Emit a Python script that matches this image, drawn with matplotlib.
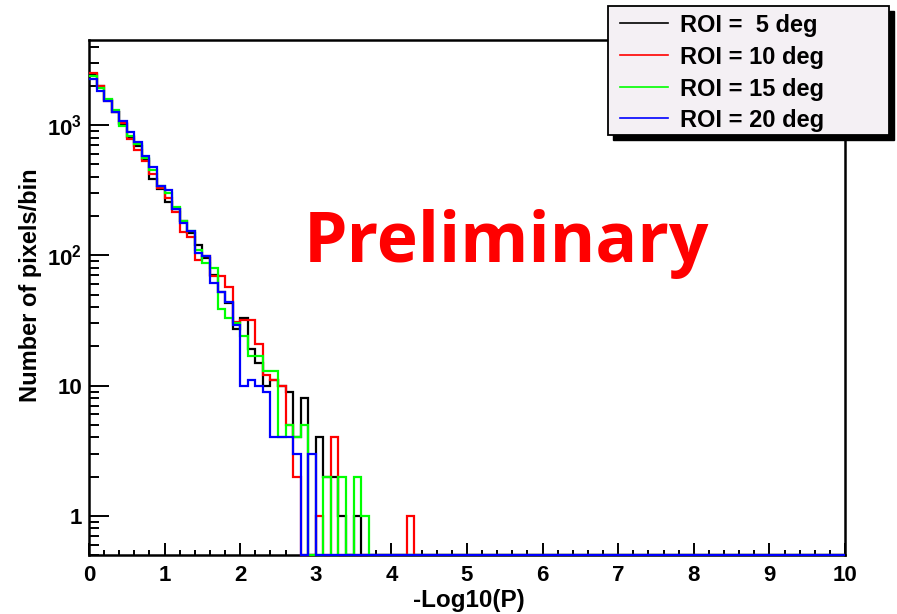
import numpy as np
import matplotlib
matplotlib.use("Agg")
import matplotlib.pyplot as plt
from matplotlib.patches import Rectangle
from matplotlib.lines import Line2D
from matplotlib.ticker import FixedLocator, MultipleLocator, NullFormatter

plt.rcParams["font.family"] = ["Liberation Sans", "DejaVu Sans"]
plt.rcParams["font.weight"] = "bold"
plt.rcParams["mathtext.fontset"] = "custom"
plt.rcParams["mathtext.bf"] = "Liberation Sans:bold"
plt.rcParams["mathtext.rm"] = "Liberation Sans:bold"
plt.rcParams["mathtext.default"] = "bf"

# ---- histogram data: 100 bins of width 0.1 in -Log10(P) ----
bin_edges = np.linspace(0.0, 10.0, 101)

roi_labels = ["ROI =  5 deg", "ROI = 10 deg", "ROI = 15 deg", "ROI = 20 deg"]
roi_colors = ["#000000", "#ff0000", "#00ff00", "#0000ff"]

# counts per bin, starting at bin [0.0, 0.1); remaining bins are empty
counts_roi5 = [2450, 1980, 1560, 1260, 1020, 810, 690, 550, 385, 325,
               255, 226, 184, 148, 120, 96, 71, 52, 43, 27,
               33, 19, 15, 10, 11, 10, 9, 4, 8, 0,
               4, 2, 2, 1, 0, 1]
counts_roi10 = [2500, 1980, 1540, 1250, 1030, 780, 640, 530, 420, 330,
                275, 216, 152, 138, 92, 98, 69, 69, 57, 31,
                32, 32, 21, 12, 11, 10, 5, 2, 0, 0,
                1, 0, 4, 0, 0, 0, 0, 0, 0, 0,
                0, 0, 1]
counts_roi15 = [2400, 1920, 1580, 1310, 985, 825, 710, 555, 450, 343,
                300, 235, 182, 154, 110, 87, 80, 39, 33, 30,
                24, 17, 17, 13, 13, 4, 5, 4, 5, 0,
                0, 2, 0, 2, 0, 2, 1]
counts_roi20 = [2250, 1830, 1530, 1265, 1075, 890, 735, 580, 475, 343,
                318, 226, 176, 154, 105, 99, 61, 52, 44, 29,
                10, 11, 10, 9, 4, 4, 4, 3, 0, 3]

series = [counts_roi5, counts_roi10, counts_roi15, counts_roi20]

y_low, y_high = 0.5, 4500.0

fig = plt.figure(figsize=(8.97, 6.14), dpi=100)
fig.patch.set_facecolor("white")
W, H = 897.0, 614.0
ax = fig.add_axes([89 / W, 1 - 555 / H, (845 - 89) / W, (555 - 40) / H])
ax.set_yscale("log")
ax.set_xlim(0, 10)
ax.set_ylim(y_low, y_high)

n_bins = len(bin_edges) - 1
for counts, color in zip(series, roi_colors):
    full = np.zeros(n_bins)
    full[:len(counts)] = counts
    # empty bins are drawn along the bottom of the frame
    shown = np.where(full > 0, full, y_low)
    ax.stairs(shown, bin_edges, baseline=None, color=color, lw=1.6,
              zorder=3, clip_on=False)

# frame
for side in ["left", "right", "top", "bottom"]:
    ax.spines[side].set_linewidth(1.8)
    ax.spines[side].set_zorder(2.5)

# x ticks
ax.xaxis.set_major_locator(MultipleLocator(1))
ax.xaxis.set_minor_locator(MultipleLocator(0.2))
ax.tick_params(axis="x", which="major", direction="in", length=8.6, width=1.4,
               labelsize=16, pad=7, top=False)
ax.tick_params(axis="x", which="minor", direction="in", length=3.6, width=1.4,
               top=False)
for lab in ax.get_xticklabels():
    lab.set_fontweight("bold")

# y ticks (log)
major_y = [1, 10, 100, 1000]
minor_y = [m * 10.0 ** e for e in range(-1, 4) for m in range(2, 10)
           if y_low <= m * 10.0 ** e <= y_high]
ax.yaxis.set_major_locator(FixedLocator(major_y))
ax.yaxis.set_minor_locator(FixedLocator(minor_y))
ax.yaxis.set_minor_formatter(NullFormatter())
ax.set_yticklabels(["1", "10", r"$10^{2}$", r"$10^{3}$"])
ax.tick_params(axis="y", which="major", direction="in", length=14.5, width=1.4,
               labelsize=16, pad=5, right=False)
ax.tick_params(axis="y", which="minor", direction="in", length=7.5, width=1.4,
               right=False)
for lab in ax.get_yticklabels():
    lab.set_fontweight("bold")

# axis titles
fig.text(469 / W, 1 - 601 / H, "-Log10(P)", ha="center", va="center",
         fontsize=17.5, fontweight="bold")
fig.text(30 / W, 1 - 285 / H, "Number of pixels/bin", ha="center", va="center",
         rotation=90, fontsize=17, fontweight="bold")

# overlay label
fig.text(506 / W, 1 - 262 / H, "Preliminary", ha="center", va="baseline",
         fontsize=50, fontweight="bold", color="#ff0000",
         family=["Open Sans", "DejaVu Sans"])

# legend box with drop shadow
bx0, by0, bx1, by1 = 608, 6, 889, 135
shadow = Rectangle(((bx0 + 5) / W, 1 - (by1 + 5) / H), (bx1 - bx0) / W,
                   (by1 - by0) / H, transform=fig.transFigure,
                   facecolor="black", edgecolor="black", zorder=10)
box = Rectangle((bx0 / W, 1 - by1 / H), (bx1 - bx0) / W, (by1 - by0) / H,
                transform=fig.transFigure, facecolor="#f4f0f4",
                edgecolor="black", lw=1.3, zorder=11)
fig.add_artist(shadow)
fig.add_artist(box)
row_y = [23.3, 55, 87.3, 118.3]
for label, color, ry in zip(roi_labels, roi_colors, row_y):
    fig.add_artist(Line2D([620 / W, 668 / W], [1 - ry / H, 1 - ry / H],
                          transform=fig.transFigure, color=color, lw=1.2,
                          zorder=12))
    fig.text(680 / W, 1 - ry / H, label, ha="left", va="center_baseline",
             fontsize=17, fontweight="bold", zorder=12)

fig.savefig("out.png", dpi=100)
